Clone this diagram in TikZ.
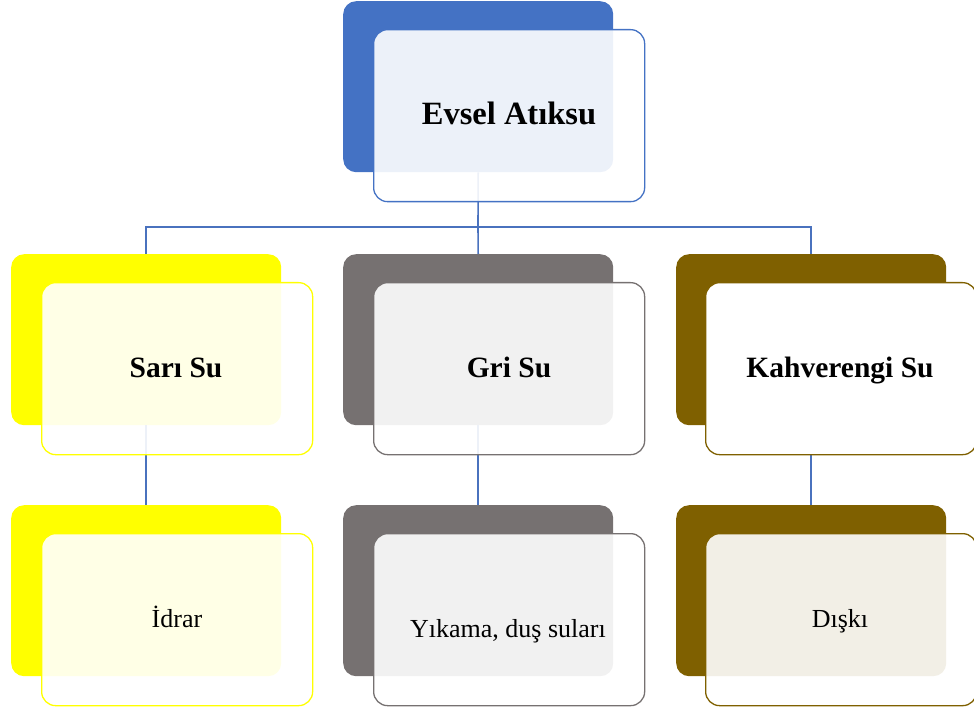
\documentclass[tikz,border=0pt]{standalone}
\usepackage{fontspec}
\setmainfont{Liberation Serif}
\definecolor{cblue}{HTML}{4472C4}
\definecolor{cline}{HTML}{4A72BE}
\definecolor{cyellow}{HTML}{FFFF00}
\definecolor{cgray}{HTML}{767171}
\definecolor{cbrown}{HTML}{7F6000}
\begin{document}
\begin{tikzpicture}[x=1pt,y=-1pt,
  backbox/.style={draw=none, fill=#1, rounded corners=13pt, minimum width=270pt, minimum height=171pt, inner sep=0pt, anchor=north west},
  frontbox/.style={draw=#1, line width=1.3pt, fill=white, fill opacity=0.9, rounded corners=14pt, minimum width=271pt, minimum height=172pt, inner sep=0pt, anchor=north west},
  conn/.style={draw=cline, line width=1.6pt},
  headtxt/.style={font=\bfseries\fontsize{32.5}{36}\selectfont, anchor=base, inner sep=0pt},
  midtxt/.style={font=\bfseries\fontsize{29.5}{34}\selectfont, anchor=base, inner sep=0pt},
  lowtxt/.style={font=\fontsize{26}{30}\selectfont, anchor=base, inner sep=0pt}]
\useasboundingbox (0,0) rectangle (974,711);
% back boxes
\node[backbox=cblue] (topB) at (343,1) {};
\node[backbox=cyellow] (sariB) at (11,254) {};
\node[backbox=cgray] (griB) at (343,254) {};
\node[backbox=cbrown] (kahveB) at (676,254) {};
\node[backbox=cyellow] (idrarB) at (11,505) {};
\node[backbox=cgray] (yikB) at (343,505) {};
\node[backbox=cbrown] (diskB) at (676,505) {};
% connectors
\coordinate (hub) at (478,227);
\draw[conn] (topB.south) -- (hub);
\draw[conn] (hub) -| (sariB.north);
\draw[conn] (hub) -- (griB.north);
\draw[conn] (hub) -| (kahveB.north);
\draw[conn] (sariB.south) -- (idrarB.north);
\draw[conn] (griB.south) -- (yikB.north);
\draw[conn] (kahveB.south) -- (diskB.north);
% front boxes
\node[frontbox=cblue] (topF) at (373,29) {};
\node[frontbox=cyellow] (sariF) at (41,282) {};
\node[frontbox=cgray] (griF) at (373,282) {};
\node[frontbox=cbrown, fill opacity=1] (kahveF) at (705,282) {};
\node[frontbox=cyellow] (idrarF) at (41,533) {};
\node[frontbox=cgray] (yikF) at (373,533) {};
\node[frontbox=cbrown] (diskF) at (705,533) {};
% texts
\node[headtxt] (tEvsel) at (509,125) {Evsel Atıksu};
\node[midtxt] (tSari) at (176,377) {Sarı Su};
\node[midtxt] (tGri) at (509,377) {Gri Su};
\node[midtxt] (tKahve) at (840,377) {Kahverengi Su};
\node[lowtxt] (tIdrar) at (177,627) {İdrar};
\node[lowtxt] (tYik) at (508,637) {Yıkama, duş suları};
\node[lowtxt] (tDisk) at (840,627) {Dışkı};
\end{tikzpicture}
\end{document}
